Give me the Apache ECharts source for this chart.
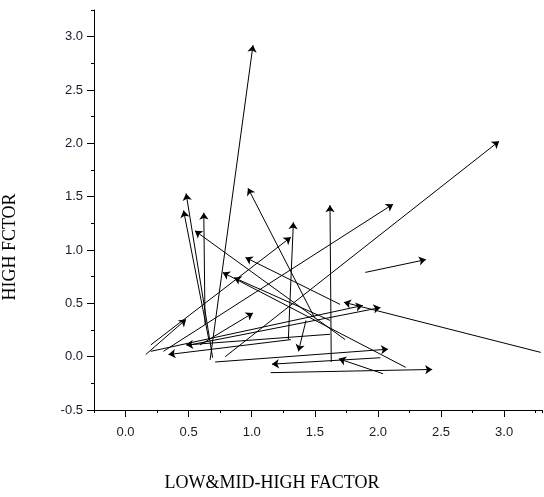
<!DOCTYPE html>
<html><head><meta charset="utf-8">
<script src="https://cdn.jsdelivr.net/npm/echarts@6/dist/echarts.min.js"></script>
<style>html,body{margin:0;padding:0;background:#fff}#c{width:544px;height:497px}</style>
</head><body><div id="c"></div>
<script>
// Arrow tails (start) and heads (end), in data units
const startX = [0.67, 0.79, 0.30, 1.90, 1.63, 3.29, 1.15, 2.04, 0.69, 0.66, 0.63, 1.74, 2.22, 1.62, 1.50, 0.20, 1.29, 1.70, 0.16, 1.31, 1.62, 0.59, 2.02, 0.71, 0.20, 0.51, 1.43];
const startY = [-0.03, 0.00, 0.05, 0.79, -0.05, 0.04, -0.15, -0.16, -0.01, 0.16, 0.30, 0.16, -0.10, 0.34, 0.36, 0.11, 0.16, 0.49, 0.02, 0.16, 0.21, 0.11, -0.01, -0.05, 0.05, 0.11, 0.34];
const endX   = [1.01, 2.96, 2.12, 2.38, 1.62, 1.73, 2.43, 1.69, 0.48, 0.46, 0.62, 0.55, 0.77, 0.86, 0.97, 1.31, 1.33, 0.95, 0.48, 0.34, 0.48, 1.01, 1.16, 2.08, 1.88, 2.02, 1.37];
const endY   = [2.92, 2.02, 1.43, 0.91, 1.42, 0.51, -0.12, -0.02, 1.53, 1.37, 1.35, 1.18, 0.79, 0.74, 1.58, 1.12, 1.26, 0.93, 0.35, 0.02, 0.11, 0.41, -0.07, 0.07, 0.48, 0.46, 0.05];

const xTitle = 'LOW&MID-HIGH FACTOR';
const yTitle = 'HIGH FCTOR';

const XMIN = -0.25, XMAX = 3.3, YMIN = -0.5, YMAX = 3.25;
const XLAB_MAX = 3.0, YLAB_MAX = 3.0;

const L = 94, T = 10, W = 448, H = 400;
const pxX = W / (XMAX - XMIN), pxY = H / (YMAX - YMIN);
const dxL = (0 - XMIN) * pxX, dyT = (YMAX - YLAB_MAX) * pxY;

const chart = echarts.init(document.getElementById('c'), null, {renderer: 'canvas'});
const arrows = startX.map((x, i) => ({coords: [[x, startY[i]], [endX[i], endY[i]]]}));
const labelFont = {fontFamily: 'Liberation Sans Narrow, Liberation Sans, Arial, sans-serif', fontSize: 13, color: '#1a1a2a'};

chart.setOption({
  animation: false,
  grid: [
    {left: L, top: T, width: W, height: H},
    {left: L + dxL, top: T + dyT, width: XLAB_MAX * pxX, height: H - dyT}
  ],
  xAxis: [
    {gridIndex: 0, type: 'value', min: XMIN, max: XMAX, interval: 0.25,
     axisLine: {onZero: false, lineStyle: {color: '#000', width: 1}},
     axisTick: {length: 3, lineStyle: {color: '#000'}},
     axisLabel: {show: false}, splitLine: {show: false}},
    {gridIndex: 1, type: 'value', min: 0, max: XLAB_MAX, interval: 0.5,
     axisLine: {show: false, onZero: false},
     axisTick: {length: 7, lineStyle: {color: '#000'}},
     axisLabel: Object.assign({margin: 16, formatter: v => v.toFixed(1)}, labelFont),
     splitLine: {show: false}}
  ],
  yAxis: [
    {gridIndex: 0, type: 'value', min: YMIN, max: YMAX, interval: 0.25,
     axisLine: {onZero: false, lineStyle: {color: '#000', width: 1}},
     axisTick: {length: 3, lineStyle: {color: '#000'}},
     axisLabel: {show: false}, splitLine: {show: false}},
    {gridIndex: 1, type: 'value', min: YMIN, max: YLAB_MAX, interval: 0.5, offset: dxL,
     axisLine: {show: false, onZero: false},
     axisTick: {length: 7, lineStyle: {color: '#000'}},
     axisLabel: Object.assign({margin: 11, formatter: v => v.toFixed(1)}, labelFont),
     splitLine: {show: false}}
  ],
  graphic: [
    {type: 'text', left: 'center', top: 474, style: {text: xTitle, font: '18px "Liberation Serif", serif', fill: '#000'}},
    {type: 'text', x: 10, y: 247, rotation: Math.PI / 2, style: {text: yTitle, font: '18px "Liberation Serif", serif', fill: '#000', align: 'center', verticalAlign: 'middle'}}
  ],
  series: [{
    type: 'lines', coordinateSystem: 'cartesian2d', xAxisIndex: 0, yAxisIndex: 0,
    symbol: ['none', 'arrow'], symbolSize: 7,
    lineStyle: {color: '#000', width: 1, opacity: 1},
    data: arrows
  }]
});
</script></body></html>
